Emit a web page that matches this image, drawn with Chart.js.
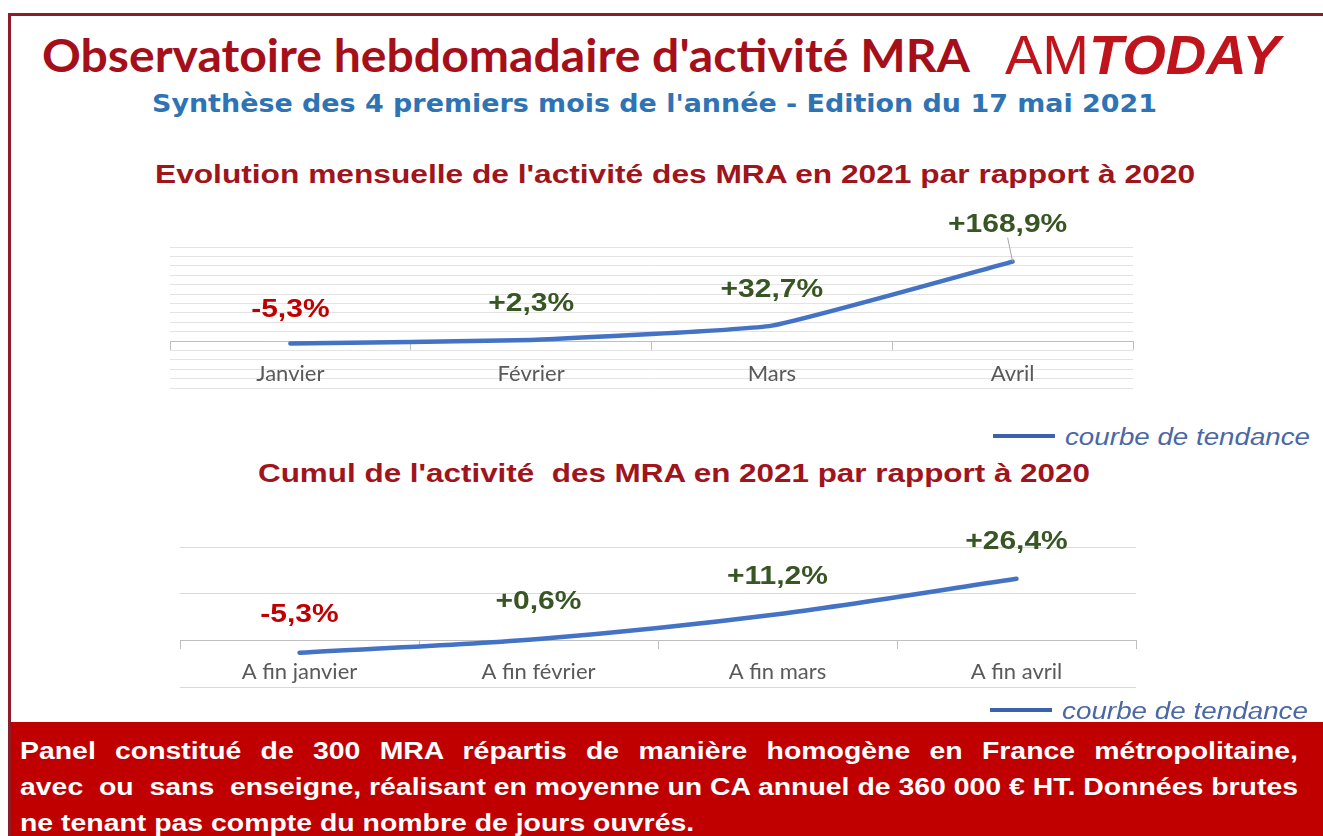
<!DOCTYPE html>
<html lang="fr">
<head>
<meta charset="utf-8">
<title>Observatoire hebdomadaire d'activité MRA</title>
<script src="https://cdn.jsdelivr.net/npm/chart.js@4.4.1/dist/chart.umd.min.js"></script>
<style>
  body { margin: 0; width: 1323px; height: 836px; overflow: hidden; background: #fff; position: relative;
         font-family: "Liberation Sans", Arial, sans-serif; }
  .frame { position: absolute; left: 8px; top: 13px; width: 1400px; height: 900px; border: 3px solid #8c1d28; box-sizing: border-box; }
  .t { position: absolute; white-space: nowrap; transform-origin: 0 0; line-height: 1; }
  #title { left: 42px; top: 27px; font: 700 46px Lato, sans-serif; color: #a50f1a; }
  #logo { left: 1005px; top: 23px; font: 400 55px "Liberation Sans", Arial, sans-serif; color: #c0141c; }
  #logo b { font-style: italic; font-weight: 900; }
  #sub { left: 152px; top: 90px; font: 700 24px "DejaVu Sans", sans-serif; color: #2e74b5; }
  .ctitle { font: 700 26px "Liberation Sans", Arial, sans-serif; color: #a0141c; }
  #ct1 { left: 155px; top: 159px; }
  #ct2 { left: 258px; top: 458px; }
  .legline { position: absolute; width: 62px; height: 4px; background: #3c62ae; }
  .legtxt { font: italic 400 23px "Liberation Sans", Arial, sans-serif; color: #4a68a6; }
  canvas { position: absolute; }
  #c1 { left: 150px; top: 200px; }
  #c2 { left: 160px; top: 500px; }
  .footer { position: absolute; left: 11px; top: 722px; width: 1312px; height: 114px; background: #c00000; }
  #foot { position: absolute; left: 20px; top: 733px; transform-origin: 0 0; color: #fff;
          font: 700 23px "Liberation Sans", Arial, sans-serif; line-height: 36px; }
  #foot div { white-space: nowrap; }
  #foot .j { text-align: justify; text-align-last: justify; white-space: normal; }
</style>
</head>
<body>
<div class="frame"></div>
<div class="t" id="title" data-w="928">Observatoire hebdomadaire d'activité MRA</div>
<div class="t" id="logo" data-w="275">AM<b>TODAY</b></div>
<div class="t" id="sub" data-w="1005">Synthèse des 4 premiers mois de l'année - Edition du 17 mai 2021</div>
<div class="t ctitle" id="ct1" data-w="1040">Evolution mensuelle de l'activité des MRA en 2021 par rapport à 2020</div>
<canvas id="c1" width="1010" height="200"></canvas>
<div class="legline" style="left:993px;top:434px"></div>
<div class="t legtxt" style="left:1065px;top:424px" data-w="245">courbe de tendance</div>
<div class="t ctitle" id="ct2" data-w="832">Cumul de l'activité&nbsp; des MRA en 2021 par rapport à 2020</div>
<canvas id="c2" width="1000" height="200"></canvas>
<div class="legline" style="left:990px;top:708px"></div>
<div class="t legtxt" style="left:1062px;top:698px" data-w="246">courbe de tendance</div>
<div class="footer"></div>
<div id="foot">
  <div class="j">Panel constitué de 300 MRA répartis de manière homogène en France métropolitaine,</div>
  <div id="fl2">avec&nbsp; ou&nbsp; sans&nbsp; enseigne, réalisant en moyenne un CA annuel de 360 000 € HT. Données brutes</div>
  <div>ne tenant pas compte du nombre de jours ouvrés.</div>
</div>
<script>
// données
var mois = ['Janvier', 'Février', 'Mars', 'Avril'];
var evolMensuelle = [-5.3, 2.3, 32.7, 168.9];
var cumuls = ['A fin janvier', 'A fin février', 'A fin mars', 'A fin avril'];
var evolCumul = [-5.3, 0.6, 11.2, 26.4];

// stretch the html texts to the widths seen on the picture
document.querySelectorAll('[data-w]').forEach(function (el) {
  var w = el.getBoundingClientRect().width;
  el.style.transform = 'scaleX(' + (+el.dataset.w / w) + ')';
});
var foot = document.getElementById('foot');
var l2 = document.getElementById('fl2');
l2.style.display = 'inline-block';
var s = 1278 / l2.getBoundingClientRect().width;
l2.style.display = '';
foot.style.width = (1278 / s) + 'px';
foot.style.transform = 'scaleX(' + s + ')';

function fmt(v) {
  return (v > 0 ? '+' : '') + v.toFixed(1).replace('.', ',') + '%';
}

var valueLabels = {
  id: 'valueLabels',
  afterDatasetsDraw: function (chart, args, opts) {
    var ctx = chart.ctx;
    var meta = chart.getDatasetMeta(0);
    var vals = chart.data.datasets[0].data;
    ctx.save();
    ctx.font = 'bold 25px "Liberation Sans", Arial, sans-serif';
    ctx.textAlign = 'center';
    ctx.textBaseline = 'middle';
    meta.data.forEach(function (pt, i) {
      var x = pt.x + (opts.dx ? opts.dx[i] : 0);
      var y = pt.y - opts.lift[i];
      if (opts.leader === i) {
        ctx.strokeStyle = '#a6a6a6';
        ctx.lineWidth = 1;
        ctx.beginPath();
        ctx.moveTo(x, y + 13);
        ctx.lineTo(pt.x, pt.y);
        ctx.stroke();
      }
      ctx.fillStyle = vals[i] < 0 ? '#c00000' : '#375623';
      ctx.save();
      ctx.translate(x, y);
      ctx.scale(1.2, 1);
      ctx.fillText(fmt(vals[i]), 0, 0);
      ctx.restore();
    });
    ctx.restore();
  }
};

function makeChart(id, labels, data, yMin, yMax, gridColor, pad, tickPad, tension, labelOpts) {
  return new Chart(document.getElementById(id), {
    type: 'line',
    data: {
      labels: labels,
      datasets: [{
        data: data,
        borderColor: '#4472c4',
        borderWidth: 4.5,
        borderCapStyle: 'round',
        tension: tension,
        pointRadius: 0,
        fill: false
      }]
    },
    options: {
      responsive: false,
      animation: false,
      layout: { padding: pad },
      plugins: {
        legend: { display: false },
        tooltip: { enabled: false },
        valueLabels: labelOpts
      },
      scales: {
        x: {
          position: { y: 0 },
          offset: true,
          grid: { offset: true, drawOnChartArea: false, drawTicks: true, tickLength: 8, color: '#bfbfbf' },
          border: { display: true, color: '#bfbfbf', width: 1 },
          ticks: { color: '#595959', font: { family: 'Lato', size: 22 }, padding: tickPad, maxRotation: 0 }
        },
        y: {
          min: yMin,
          max: yMax,
          ticks: { display: false, stepSize: 20 },
          grid: { color: gridColor, drawTicks: false },
          border: { display: false }
        }
      }
    },
    plugins: [valueLabels]
  });
}

makeChart('c1', mois, evolMensuelle, -100, 200, '#e3e3e3',
  { left: 20, right: 27, top: 47, bottom: 12 }, 12, 0.12,
  { lift: [33, 36, 36, 37], dx: [0, 0, 0, -5], leader: 3 });
makeChart('c2', cumuls, evolCumul, -20, 40, '#d9d9d9',
  { left: 20, right: 24, top: 47, bottom: 13 }, 10, 0.3,
  { lift: [38, 37, 37, 37], leader: -1 });
</script>
</body>
</html>
